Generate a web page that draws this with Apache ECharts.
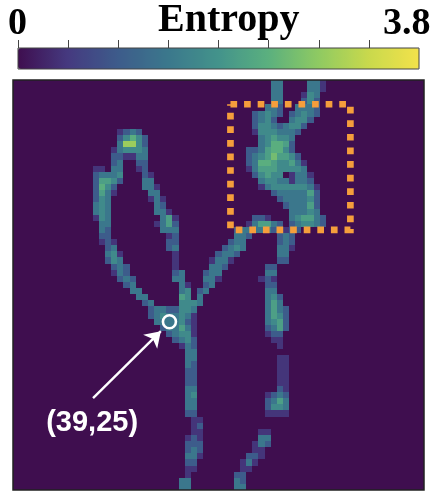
<!DOCTYPE html>
<html>
<head>
<meta charset="utf-8">
<title>Entropy</title>
<script src="https://cdn.jsdelivr.net/npm/echarts@6/dist/echarts.min.js"></script>
<style>
    html, body { margin: 0; padding: 0; background: #fff; }
    #chart { width: 436px; height: 500px; }
</style>
</head>
<body>
<div id="chart"></div>
<script>
// image size in cells
const GRID_SIZE = 67;
const ENTROPY_MIN = 0;
const ENTROPY_MAX = 3.8;

// colour strength -> entropy
const levelValues = [0, 0.42, 0.95, 1.4, 1.75, 2.1, 2.35, 2.6, 2.95];

// [row, first column, level of each cell going right], everything else is 0
const entropyRuns = [
    [0, 42, '33'], [0, 48, '331'],
    [1, 42, '33'], [1, 48, '331'],
    [2, 42, '33'], [2, 47, '143'],
    [3, 42, '33'], [3, 47, '242'],
    [4, 41, '332'], [4, 46, '3332'],
    [5, 39, '23432'], [5, 45, '23432'],
    [6, 39, '2342'], [6, 45, '3442'],
    [7, 39, '244323442'],
    [8, 17, '1232'], [8, 39, '14443332'],
    [9, 17, '24642'], [9, 40, '345443'],
    [10, 17, '38842'], [10, 40, '346652'],
    [11, 16, '134443'], [11, 38, '22356642'],
    [12, 16, '221133'], [12, 38, '234575542'],
    [13, 16, '23'], [13, 20, '22'], [13, 38, '2366544531'],
    [14, 13, '11'], [14, 16, '33'], [14, 20, '12'], [14, 38, '1355544443'],
    [15, 13, '23334'], [15, 21, '21'], [15, 39, '2454401331'],
    [16, 13, '25542'], [16, 21, '33'], [16, 40, '344331332'],
    [17, 13, '2642'], [17, 21, '331'], [17, 40, '1344444431'],
    [18, 13, '2531'], [18, 22, '33'], [18, 42, '23333352'],
    [19, 13, '243'], [19, 22, '131'], [19, 43, '2333342'],
    [20, 13, '343'], [20, 23, '32'], [20, 44, '233352'],
    [21, 13, '343'], [21, 23, '331'], [21, 45, '33343'],
    [22, 13, '143'], [22, 24, '351'], [22, 39, '221'], [22, 45, '345532'],
    [23, 14, '33'], [23, 23, '1352'], [23, 38, '135532'], [23, 45, '234432'],
    [24, 14, '32'], [24, 24, '333'], [24, 36, '23333322122'],
    [25, 14, '22'], [25, 25, '12'], [25, 36, '332'], [25, 43, '232'],
    [26, 14, '121'], [26, 25, '22'], [26, 35, '233'], [26, 43, '232'],
    [27, 15, '23'], [27, 25, '23'], [27, 34, '2343'], [27, 43, '331'],
    [28, 15, '341'], [28, 26, '1'], [28, 33, '2332'], [28, 43, '33'],
    [29, 15, '243'], [29, 26, '1'], [29, 32, '1331'], [29, 43, '22'],
    [30, 16, '232'], [30, 26, '1'], [30, 32, '332'], [30, 41, '22'],
    [31, 16, '132'], [31, 26, '23'], [31, 31, '233'], [31, 41, '33'],
    [32, 17, '232'], [32, 26, '33'], [32, 31, '331'], [32, 40, '121'],
    [33, 18, '23'], [33, 27, '31'], [33, 31, '23'], [33, 41, '22'],
    [34, 19, '33'], [34, 27, '34'], [34, 30, '23'], [34, 41, '33'],
    [35, 20, '33'], [35, 27, '54'], [35, 30, '3'], [35, 41, '342'],
    [36, 21, '23'], [36, 27, '4443'], [36, 41, '353'],
    [37, 22, '23322443'], [37, 41, '3532'],
    [38, 22, '23433431'], [38, 41, '3542'],
    [39, 23, '3333421'], [39, 41, '3452'],
    [40, 24, '233531'], [40, 41, '2352'],
    [41, 25, '23441'], [41, 41, '122'],
    [42, 26, '2342'], [42, 42, '11'],
    [43, 27, '132'], [43, 43, '1'],
    [44, 28, '33'],
    [45, 28, '33'], [45, 43, '11'],
    [46, 28, '32'], [46, 43, '11'],
    [47, 28, '22'], [47, 43, '11'],
    [48, 28, '22'], [48, 43, '11'],
    [49, 28, '22'], [49, 43, '11'],
    [50, 28, '33'], [50, 43, '21'],
    [51, 28, '34'], [51, 41, '1232'],
    [52, 28, '33'], [52, 41, '2353'],
    [53, 28, '33'], [53, 41, '2443'],
    [54, 28, '22'], [54, 41, '1111'],
    [55, 29, '11'],
    [56, 29, '12'],
    [57, 29, '11'], [57, 40, '11'],
    [58, 28, '121'], [58, 40, '33'],
    [59, 28, '222'], [59, 39, '132'],
    [60, 28, '232'], [60, 39, '11'],
    [61, 28, '331'], [61, 38, '221'],
    [62, 28, '22'], [62, 37, '131'],
    [63, 28, '11'], [63, 37, '11'],
    [64, 28, '1'], [64, 36, '22'],
    [65, 27, '33'], [65, 36, '32'],
    [66, 27, '33'], [66, 36, '33']
];

// colorbar
const colorStops = ['#3f0e4f', '#453a80', '#3d5c8b', '#3b788c', '#43938b', '#5bb07e', '#8fca62', '#c9d94c', '#f3e24b'];
const colorbarTicks = [0, 0.475, 0.95, 1.425, 1.9, 2.375, 2.85, 3.325];
const colorbarMinLabel = '0';
const colorbarMaxLabel = '3.8';

// annotations, in cell units
const boxCols = [35.45, 55, 55, 35.45, 35.45];
const boxRows = [3.96, 3.96, 24.5, 24.5, 3.96];
const markedCell = [25.5, 39.5];
const arrowFrom = [13.05, 52];
const arrowTo = [24.1, 41.05];
const markedLabel = '(39,25)';
const markedLabelAt = [12.9, 56.1];

const cellIndexes = [];
for (let i = 0; i < GRID_SIZE; i++) {
    cellIndexes.push(i);
}

function buildHeatData() {
    const levels = cellIndexes.map(() => cellIndexes.map(() => 0));
    entropyRuns.forEach(([row, col, run]) => {
        run.split('').forEach((level, i) => {
            levels[row][col + i] = +level;
        });
    });
    const data = [];
    levels.forEach((cols, row) => {
        cols.forEach((level, col) => {
            data.push([col, row, levelValues[level]]);
        });
    });
    return data;
}

// heatmap cells at fractional sizes leave seams, so snap each one to whole pixels
function renderCell(params, api) {
    const center = api.coord([api.value(0), api.value(1)]);
    const size = api.size([1, 1]);
    const x0 = Math.round(center[0] - size[0] / 2);
    const y0 = Math.round(center[1] - size[1] / 2);
    const x1 = Math.round(center[0] + size[0] / 2);
    const y1 = Math.round(center[1] + size[1] / 2);
    return {
        type: 'rect',
        shape: { x: x0, y: y0, width: x1 - x0, height: y1 - y0 },
        style: { fill: api.visual('color') }
    };
}

const SERIF_BOLD = {
    fontFamily: 'Liberation Serif',
    fontWeight: 'bold',
    color: '#000'
};

const chart = echarts.init(document.getElementById('chart'), null, { renderer: 'canvas' });
chart.setOption({
    animation: false,
    title: [
        { text: 'Entropy', left: 158, top: 1, padding: 0, textStyle: { ...SERIF_BOLD, fontSize: 40 } },
        { text: colorbarMinLabel, left: 8, top: 5, padding: 0, textStyle: { ...SERIF_BOLD, fontSize: 38 } },
        { text: colorbarMaxLabel, left: 383, top: 5, padding: 0, textStyle: { ...SERIF_BOLD, fontSize: 38 } }
    ],
    grid: [
        {
            left: 13,
            top: 80,
            width: 411,
            height: 410,
            show: true,
            z: 5,
            backgroundColor: 'transparent',
            borderColor: '#222',
            borderWidth: 1.5
        },
        {
            left: 18,
            top: 48,
            width: 401,
            height: 21,
            show: true,
            z: 5,
            backgroundColor: 'transparent',
            borderColor: '#444',
            borderWidth: 1
        }
    ],
    xAxis: [
        { type: 'category', gridIndex: 0, data: cellIndexes, show: false },
        { type: 'value', gridIndex: 0, min: 0, max: GRID_SIZE, show: false },
        {
            type: 'value',
            gridIndex: 1,
            position: 'top',
            min: ENTROPY_MIN,
            max: ENTROPY_MAX,
            splitLine: { show: false },
            axisLine: { show: false, onZero: false },
            axisLabel: { show: false },
            axisTick: {
                show: true,
                customValues: colorbarTicks,
                length: 8,
                lineStyle: { color: '#444', width: 1 }
            }
        }
    ],
    yAxis: [
        { type: 'category', gridIndex: 0, data: cellIndexes, inverse: true, show: false },
        { type: 'value', gridIndex: 0, min: 0, max: GRID_SIZE, inverse: true, show: false },
        { type: 'value', gridIndex: 1, show: false }
    ],
    visualMap: {
        type: 'continuous',
        seriesIndex: 0,
        dimension: 2,
        min: ENTROPY_MIN,
        max: ENTROPY_MAX,
        orient: 'horizontal',
        left: 18,
        top: 48,
        padding: 0,
        itemWidth: 21,
        itemHeight: 401,
        calculable: false,
        hoverLink: false,
        text: null,
        inRange: { color: colorStops }
    },
    series: [
        {
            type: 'custom',
            xAxisIndex: 0,
            yAxisIndex: 0,
            data: buildHeatData(),
            encode: { x: 0, y: 1 },
            renderItem: renderCell,
            silent: true
        },
        {
            // dotted box
            type: 'line',
            xAxisIndex: 1,
            yAxisIndex: 1,
            data: boxCols.map((col, i) => [col, boxRows[i]]),
            symbol: 'none',
            silent: true,
            z: 3,
            lineStyle: {
                color: '#f59e3c',
                width: 6.7,
                type: [6.7, 6.9],
                cap: 'butt',
                join: 'miter'
            }
        },
        {
            // arrow to the marked cell
            type: 'line',
            xAxisIndex: 1,
            yAxisIndex: 1,
            data: [arrowFrom, arrowTo],
            symbol: 'none',
            silent: true,
            z: 3,
            lineStyle: { opacity: 0 },
            markLine: {
                silent: true,
                animation: false,
                symbol: ['none', 'arrow'],
                symbolSize: 15,
                label: { show: false },
                lineStyle: { color: '#fff', width: 2.4, type: 'solid' },
                data: [[{ coord: arrowFrom }, { coord: arrowTo }]]
            }
        },
        {
            type: 'scatter',
            xAxisIndex: 1,
            yAxisIndex: 1,
            data: [markedCell],
            symbol: 'circle',
            symbolSize: 13,
            silent: true,
            z: 4,
            itemStyle: { color: 'rgba(0,0,0,0)', borderColor: '#fff', borderWidth: 2.6, opacity: 1 }
        },
        {
            type: 'scatter',
            xAxisIndex: 1,
            yAxisIndex: 1,
            data: [markedLabelAt],
            symbolSize: 0,
            silent: true,
            z: 4,
            itemStyle: { opacity: 1 },
            label: {
                show: true,
                position: 'inside',
                formatter: markedLabel,
                fontFamily: 'Liberation Sans',
                fontWeight: 'bold',
                fontSize: 29,
                color: '#fff',
                textBorderWidth: 0
            }
        }
    ]
});
</script>
</body>
</html>
